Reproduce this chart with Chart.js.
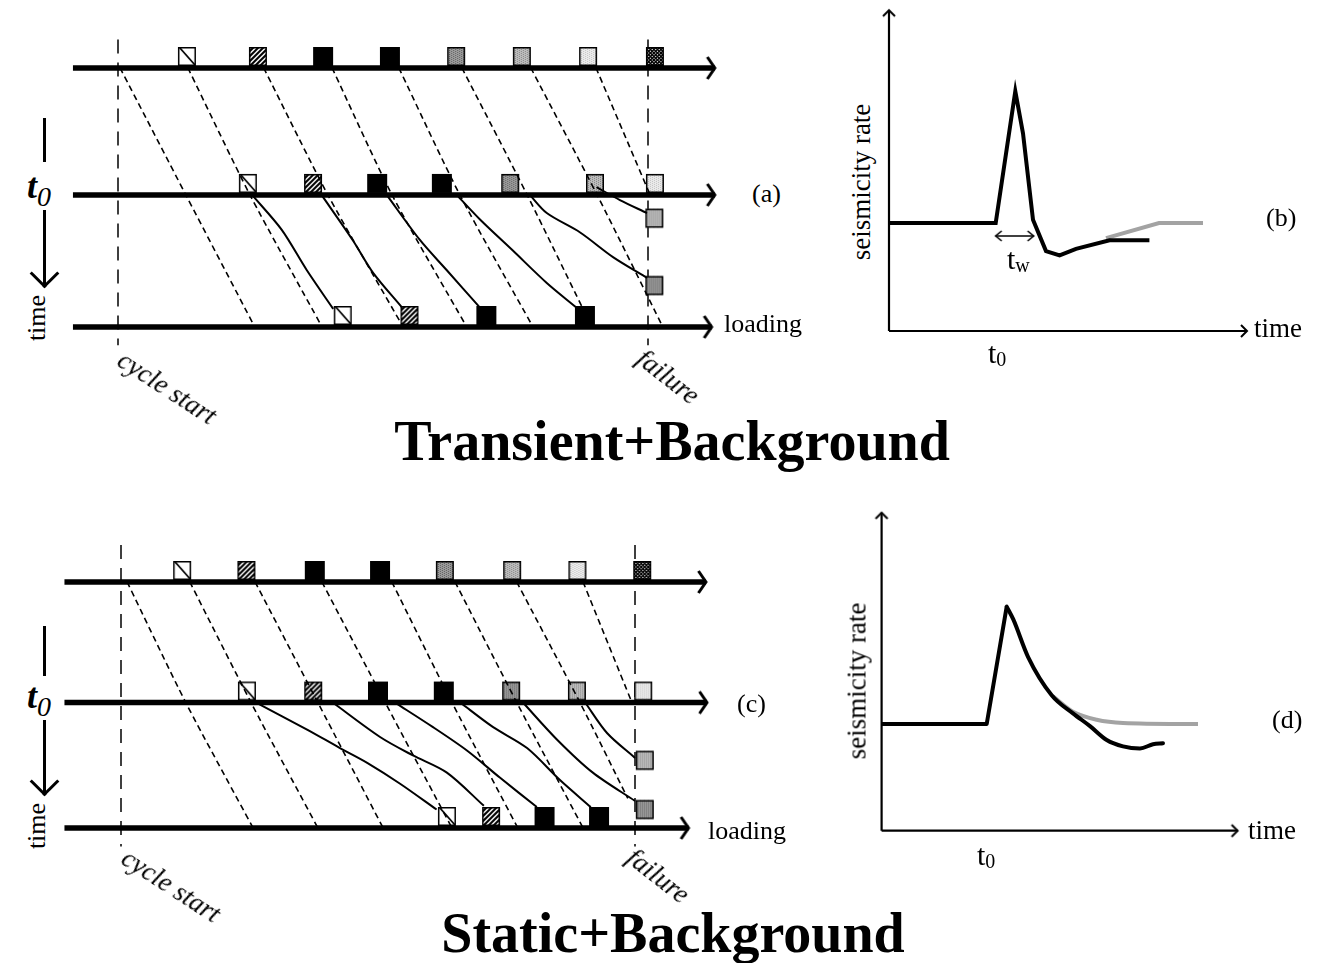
<!DOCTYPE html>
<html>
<head>
<meta charset="utf-8">
<title>Transient+Background / Static+Background</title>
<script src="https://cdn.jsdelivr.net/npm/chart.js"></script>
<style>
  body { margin: 0; background: #fff; }
  #fig { position: relative; width: 1319px; height: 963px; overflow: hidden;
         font-family: "Liberation Serif", "Times New Roman", serif; color: #000; }
  #fig canvas { position: absolute; }
  .t { position: absolute; white-space: nowrap; line-height: 1; }
  .c { transform: translate(-50%, -50%); }
  .bar { position: absolute; width: 3px; background: #000; }
  .head { position: absolute; width: 21px; height: 21px; box-sizing: border-box;
          border-right: 3px solid #000; border-bottom: 3px solid #000; transform: rotate(45deg); }
  .title { font-weight: bold; font-size: 56px; }
</style>
</head>
<body>
<div id="fig">
  <canvas id="panelA" width="680" height="320" style="left:60px;top:30px"></canvas>
  <canvas id="panelB" width="380" height="345" style="left:880px;top:0px"></canvas>
  <canvas id="panelC" width="680" height="320" style="left:60px;top:540px"></canvas>
  <canvas id="panelD" width="390" height="345" style="left:870px;top:500px"></canvas>

  <!-- left time markers -->
  <div class="bar" style="left:43px;top:118px;height:44px"></div>
  <div class="t" style="left:27px;top:168px;font-size:36px"><b><i>t</i></b><i style="font-size:28px;position:relative;top:8px">0</i></div>
  <div class="bar" style="left:43px;top:210px;height:76px"></div>
  <div class="head" style="left:34px;top:263px"></div>
  <div class="t c" style="left:37px;top:318px;font-size:26px;transform:translate(-50%,-50%) rotate(-90deg)">time</div>

  <div class="bar" style="left:43px;top:626px;height:50px"></div>
  <div class="t" style="left:27px;top:678px;font-size:36px"><b><i>t</i></b><i style="font-size:28px;position:relative;top:8px">0</i></div>
  <div class="bar" style="left:43px;top:720px;height:74px"></div>
  <div class="head" style="left:34px;top:771px"></div>
  <div class="t c" style="left:37px;top:826px;font-size:26px;transform:translate(-50%,-50%) rotate(-90deg)">time</div>

  <!-- panel (a) labels -->
  <div class="t" style="left:752px;top:181px;font-size:26px">(a)</div>
  <div class="t" style="left:724px;top:311px;font-size:26px">loading</div>
  <div class="t c" style="left:167px;top:388px;font-size:27px;font-style:italic;transform:translate(-50%,-50%) rotate(33deg)">cycle start</div>
  <div class="t c" style="left:668px;top:377px;font-size:27px;font-style:italic;transform:translate(-50%,-50%) rotate(38deg)">failure</div>
  <div class="t c title" style="left:672px;top:441px">Transient+Background</div>

  <!-- panel (b) labels -->
  <div class="t c" style="left:861px;top:182px;font-size:27px;transform:translate(-50%,-50%) rotate(-90deg)">seismicity rate</div>
  <div class="t" style="left:1254px;top:315px;font-size:27px">time</div>
  <div class="t" style="left:1266px;top:205px;font-size:26px">(b)</div>
  <div class="t" style="left:988px;top:338px;font-size:30px">t<span style="font-size:20px;position:relative;top:3px">0</span></div>
  <div class="t" style="left:1007px;top:244px;font-size:30px">t<span style="font-size:20px;position:relative;top:3px">w</span></div>

  <!-- panel (c) labels -->
  <div class="t" style="left:737px;top:691px;font-size:26px">(c)</div>
  <div class="t" style="left:708px;top:818px;font-size:26px">loading</div>
  <div class="t c" style="left:171px;top:886px;font-size:27px;font-style:italic;transform:translate(-50%,-50%) rotate(33deg)">cycle start</div>
  <div class="t c" style="left:658px;top:876px;font-size:27px;font-style:italic;transform:translate(-50%,-50%) rotate(38deg)">failure</div>
  <div class="t c title" style="left:673px;top:933px">Static+Background</div>

  <!-- panel (d) labels -->
  <div class="t c" style="left:857px;top:681px;font-size:27px;transform:translate(-50%,-50%) rotate(-90deg)">seismicity rate</div>
  <div class="t" style="left:1248px;top:817px;font-size:27px">time</div>
  <div class="t" style="left:1272px;top:707px;font-size:26px">(d)</div>
  <div class="t" style="left:977px;top:840px;font-size:30px">t<span style="font-size:20px;position:relative;top:3px">0</span></div>
</div>

<script>
// time of each row in the loading diagrams (0 = before, ~1 = t0, 2 = later)
var rowTimes = [0, 0.98, 2];
var cycleStart = 0, failureLoad = 100;   // loading in % of the seismic cycle

var stylesTop = ['diag', 'hatch', 'black', 'black', 'dark', 'mid', 'light', 'cross'];
var stylesMid = ['diag', 'hatch', 'black', 'black', 'dark', 'mid', 'light'];
var stylesBot = ['diag', 'hatch', 'black', 'black'];
var stylesLate = ['mid', 'dark'];

// (a) transient + background
var aTop = [13.0, 26.4, 38.7, 51.3, 63.8, 76.2, 88.7, 101.3];
var aMid = [24.5, 36.8, 48.9, 61.1, 74.0, 90.0, 101.3];
var aBot = [42.4, 55.0, 69.5, 88.1];
var aLate = [[101.2, 1.16], [101.2, 1.68]];
var aAxisStart = -8.5;
var aAxisEnd = [112.6, 112.6, 112.0];
var aMarkT = [-0.22, 2.14];
var aDashed = [
  [[0.4, 0], [12.8, 0.98], [25.8, 2]],
  [[13.2, 0], [24.9, 0.98], [38.5, 2]],
  [[27.5, 0], [39.6, 0.98], [53.8, 2]],
  [[40.4, 0], [51.7, 0.98], [65.8, 2]],
  [[53.0, 0], [64.5, 0.98], [78.3, 2]],
  [[64.9, 0], [77.2, 0.98], [89.4, 2]],
  [[77.9, 0], [90.4, 0.98], [102.8, 2]],
  [[90.2, 0], [100.4, 0.98]]
];
var aSolid = [
  [[25.3, 0.98], [30.9, 1.25], [35.6, 1.56], [40.6, 1.86]],
  [[38.4, 0.98], [44.3, 1.33], [48.1, 1.58], [53.6, 1.85]],
  [[50.7, 0.98], [57.0, 1.33], [62.0, 1.56], [68.3, 1.85]],
  [[63.9, 0.98], [68.3, 1.17], [74.5, 1.41], [80.9, 1.66], [86.5, 1.85]],
  [[77.7, 0.98], [80.9, 1.12], [87.2, 1.27], [93.4, 1.46], [99.8, 1.62]],
  [[90.3, 0.92], [94.7, 1.02], [99.8, 1.12]]
];

// (c) static + background
var cTop = [11.9, 24.4, 37.7, 50.4, 63.0, 76.1, 88.8, 101.4];
var cMid = [24.5, 37.4, 50.0, 62.8, 75.9, 88.7, 101.6];
var cBot = [63.4, 72.0, 82.4, 93.0];
var cLate = [[101.9, 1.45], [101.9, 1.85]];
var cAxisStart = -11.0;
var cAxisEnd = [113.8, 114.0, 110.4];
var cMarkT = [-0.3, 2.15];
var cDashed = [
  [[1.2, 0], [12.6, 0.98], [25.7, 2]],
  [[13.4, 0], [25.3, 0.98], [38.3, 2]],
  [[26.1, 0], [38.3, 0.98], [51.0, 2]],
  [[39.1, 0], [51.4, 0.98], [64.4, 2]],
  [[52.7, 0], [64.4, 0.98], [77.2, 2]],
  [[65.0, 0], [77.0, 0.98], [89.9, 2]],
  [[77.0, 0], [89.3, 0.98], [98.6, 1.76]],
  [[89.9, 0], [99.4, 0.98]]
];
var cSolid = [
  [[26.3, 0.98], [36.2, 1.20], [42.6, 1.35], [47.9, 1.47], [54.3, 1.64], [61.4, 1.85]],
  [[41.2, 0.98], [50.4, 1.26], [56.8, 1.41], [63.4, 1.55], [70.6, 1.82]],
  [[53.3, 0.98], [60.7, 1.18], [67.3, 1.37], [73.7, 1.59], [80.9, 1.83]],
  [[66.0, 0.98], [72.4, 1.18], [79.0, 1.35], [85.4, 1.61], [91.4, 1.83]],
  [[78.2, 0.98], [84.8, 1.28], [91.8, 1.55], [100.0, 1.78]],
  [[90.3, 0.98], [94.6, 1.23], [100.0, 1.43]]
];

// (b) seismicity rate, transient stress change (background rate = 1)
var bTime = [0, 10.67, 12.63, 13.4, 14.4, 15.7, 17.06, 18.7, 22.05, 26.04];
var bRate = [1.0, 1.0, 2.22, 1.83, 1.03, 0.74, 0.70, 0.76, 0.84, 0.84];
var bBgTime = [21.7, 27.0, 31.4];
var bBgRate = [0.86, 1.0, 1.0];
var bTw = [10.67, 14.46];
var bTwRate = 0.88;

// (d) seismicity rate, static stress change: jump, then decay
var dRiseTime = [0, 10.51, 12.51];
var dRiseRate = [1.0, 1.0, 2.10];
var dDecayTime = [12.51, 13.17, 14.64, 17.01, 19.14, 20.84, 22.51, 24.14, 25.84, 27.14, 28.14];
var dDecayRate = [2.10, 1.98, 1.63, 1.27, 1.10, 0.98, 0.85, 0.79, 0.77, 0.81, 0.82];
var dBgTime = [17.14, 19.14, 21.51, 24.14, 31.64];
var dBgRate = [1.26, 1.115, 1.04, 1.01, 1.0];

var timeAxisLen = [35.8, 35.6];   // (b), (d)
var rateAxisLen = [2.97, 2.98];

// page layout of each panel
var frameA = { left: 60, top: 30, width: 680, height: 320, x0: 118, x100: 648, row0: 68, row2: 327 };
var frameC = { left: 60, top: 540, width: 680, height: 320, x0: 121, x100: 635, row0: 582, row2: 828 };
var frameB = { left: 880, top: 0, width: 380, height: 345, ox: 889, oy: 331, sx: 10, sy: 108 };
var frameD = { left: 870, top: 500, width: 390, height: 345, ox: 881.6, oy: 830.7, sx: 10, sy: 106.7 };

function chevron(back, half, lw) {
  var c = document.createElement('canvas');
  var s = 2 * Math.ceil(Math.max(back, half) + lw + 2);
  c.width = s; c.height = s;
  var g = c.getContext('2d');
  g.strokeStyle = '#000'; g.lineWidth = lw; g.lineJoin = 'miter';
  g.beginPath();
  g.moveTo(s / 2 - back, s / 2 - half);
  g.lineTo(s / 2, s / 2);
  g.lineTo(s / 2 - back, s / 2 + half);
  g.stroke();
  return c;
}
var arrowBold = chevron(7.5, 11, 3);
var arrowThin = chevron(6, 6, 2);
var arrowTiny = chevron(6, 5, 1.6);

function fillSquare(g, style, x, y, w, h) {
  g.save();
  g.beginPath(); g.rect(x, y, w, h); g.clip();
  if (style === 'black') {
    g.fillStyle = '#000'; g.fillRect(x, y, w, h);
  } else if (style === 'dark' || style === 'mid' || style === 'light') {
    var sh = { dark: ['#5e5e5e', '#9c9c9c'], mid: ['#878787', '#bdbdbd'], light: ['#c4c4c4', '#ececec'] }[style];
    g.fillStyle = sh[1]; g.fillRect(x, y, w, h);
    g.fillStyle = sh[0];
    for (var i = 0; i < w; i += 2) {
      for (var j = (i / 2) % 2; j < h; j += 2) g.fillRect(x + i, y + j, 1, 1);
    }
  } else {
    g.fillStyle = '#fff'; g.fillRect(x, y, w, h);
    g.strokeStyle = '#000';
    if (style === 'diag') {
      g.lineWidth = 1.8;
      g.beginPath(); g.moveTo(x + 2, y + 1); g.lineTo(x + w - 1, y + h - 1); g.stroke();
    } else if (style === 'hatch') {
      g.lineWidth = 2;
      for (var k = -h; k < w + h; k += 5) {
        g.beginPath(); g.moveTo(x + k, y + h); g.lineTo(x + k + h, y); g.stroke();
      }
    } else if (style === 'cross') {
      g.lineWidth = 1.3;
      for (var m = -h; m < w + h; m += 3.5) {
        g.beginPath(); g.moveTo(x + m, y + h); g.lineTo(x + m + h, y); g.stroke();
        g.beginPath(); g.moveTo(x + m, y); g.lineTo(x + m + h, y + h); g.stroke();
      }
    }
  }
  g.restore();
  g.strokeStyle = '#000'; g.lineWidth = 1.5;
  g.strokeRect(x + 0.75, y + 0.75, w - 1.5, h - 1.5);
}

// square sitting on a row (above) or free-standing (centred)
function squareImg(style, above) {
  var w = style === 'black' ? 20 : 18, h = 19;
  var c = document.createElement('canvas');
  c.width = w + 4;
  c.height = above ? 48 : h + 5;
  var g = c.getContext('2d');
  fillSquare(g, style, 2, above ? c.height / 2 - 2 - h : 2.5, w, h);
  return c;
}

function pts(list) {
  return list.map(function (p) { return { x: p[0], y: p[1] }; });
}

function lineSet(list, o) {
  var d = {
    data: pts(list), showLine: true, borderColor: '#000', borderWidth: 2,
    pointRadius: 0, tension: 0, clip: false, order: 1
  };
  for (var k in o) d[k] = o[k];
  return d;
}

function squareSet(list, styles, above) {
  return {
    data: pts(list), showLine: false, clip: false, order: 3, pointRadius: 6,
    pointStyle: styles.map(function (s) { return squareImg(s, above); })
  };
}

function baseOptions(xmin, xmax, ymin, ymax, rev) {
  return {
    responsive: false, animation: false, events: [],
    layout: { padding: 0, autoPadding: false },
    plugins: { legend: { display: false }, tooltip: { enabled: false } },
    scales: {
      x: { type: 'linear', display: false, min: xmin, max: xmax },
      y: { type: 'linear', display: false, min: ymin, max: ymax, reverse: rev }
    }
  };
}

function loadingPanel(id, f, p) {
  var ppx = (f.x100 - f.x0) / (failureLoad - cycleStart);
  var ppt = (f.row2 - f.row0) / rowTimes[2];
  var ds = [];
  rowTimes.forEach(function (t, i) {
    ds.push(lineSet([[p.axisStart, t], [p.axisEnd[i], t]],
      { borderWidth: 5.5, pointStyle: arrowBold, pointRadius: [0, 5], order: 0 }));
  });
  [cycleStart, failureLoad].forEach(function (x) {
    ds.push(lineSet([[x, p.markT[0]], [x, p.markT[1]]], { borderWidth: 1.5, borderDash: [14, 9], order: 4 }));
  });
  p.dashed.forEach(function (tr) {
    ds.push(lineSet(tr, { borderWidth: 1.6, borderDash: [6, 4], tension: 0.25, order: 2 }));
  });
  p.solid.forEach(function (tr) {
    ds.push(lineSet(tr, { borderWidth: 2, tension: 0.3, order: 1 }));
  });
  ds.push(squareSet(p.top.map(function (x) { return [x, rowTimes[0]]; }), stylesTop, true));
  ds.push(squareSet(p.mid.map(function (x) { return [x, rowTimes[1]]; }), stylesMid, true));
  ds.push(squareSet(p.bot.map(function (x) { return [x, rowTimes[2]]; }), stylesBot, true));
  ds.push(squareSet(p.late, stylesLate, false));
  new Chart(document.getElementById(id), {
    type: 'scatter',
    data: { datasets: ds },
    options: baseOptions(
      cycleStart + (f.left - f.x0) / ppx, cycleStart + (f.left + f.width - f.x0) / ppx,
      (f.top - f.row0) / ppt, (f.top + f.height - f.row0) / ppt, true)
  });
}

function ratePanel(id, f, k, series, twArrow) {
  var ds = [
    lineSet([[0, 0], [0, rateAxisLen[k]]], { borderWidth: 2.2, pointStyle: arrowThin, pointRadius: [0, 4], pointRotation: -90, order: 0 }),
    lineSet([[0, 0], [timeAxisLen[k], 0]], { borderWidth: 2.2, pointStyle: arrowThin, pointRadius: [0, 4], order: 0 })
  ];
  series.forEach(function (s) { ds.push(s); });
  if (twArrow) {
    ds.push(lineSet([[twArrow[0], twArrow[2]], [twArrow[1], twArrow[2]]],
      { borderWidth: 1.6, pointStyle: arrowTiny, pointRadius: [4, 4], pointRotation: [180, 0], order: 0 }));
  }
  new Chart(document.getElementById(id), {
    type: 'scatter',
    data: { datasets: ds },
    options: baseOptions(
      (f.left - f.ox) / f.sx, (f.left + f.width - f.ox) / f.sx,
      (f.oy - f.top - f.height) / f.sy, (f.oy - f.top) / f.sy, false)
  });
}

function zip(xs, ys) { return xs.map(function (x, i) { return [x, ys[i]]; }); }

loadingPanel('panelA', frameA, { top: aTop, mid: aMid, bot: aBot, late: aLate, axisStart: aAxisStart,
  axisEnd: aAxisEnd, markT: aMarkT, dashed: aDashed, solid: aSolid });
loadingPanel('panelC', frameC, { top: cTop, mid: cMid, bot: cBot, late: cLate, axisStart: cAxisStart,
  axisEnd: cAxisEnd, markT: cMarkT, dashed: cDashed, solid: cSolid });

ratePanel('panelB', frameB, 0, [
  lineSet(zip(bTime, bRate), { borderWidth: 4, order: 1 }),
  lineSet(zip(bBgTime, bBgRate), { borderWidth: 4, borderColor: '#a3a3a3', order: 2 })
], [bTw[0], bTw[1], bTwRate]);

ratePanel('panelD', frameD, 1, [
  lineSet(zip(dRiseTime, dRiseRate), { borderWidth: 4, borderJoinStyle: 'round', order: 1 }),
  lineSet(zip(dDecayTime, dDecayRate), { borderWidth: 4, borderCapStyle: 'round', cubicInterpolationMode: 'monotone', order: 1 }),
  lineSet(zip(dBgTime, dBgRate), { borderWidth: 4, borderColor: '#a3a3a3', cubicInterpolationMode: 'monotone', order: 2 })
], null);
</script>
</body>
</html>
